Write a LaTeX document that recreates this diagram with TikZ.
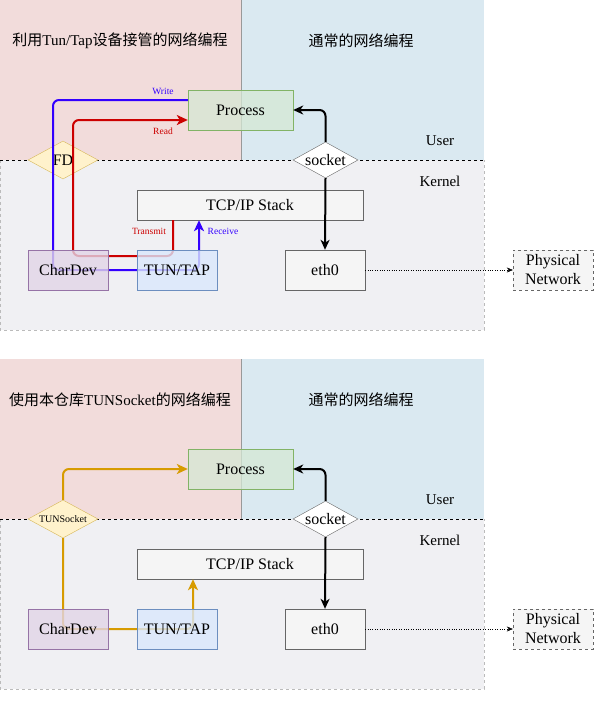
\documentclass[tikz,border=0pt]{standalone}
\usepackage{fontspec}
\setmainfont{Liberation Serif}
\newfontfamily\cjk{Noto Sans CJK SC}
\usetikzlibrary{shapes.geometric,arrows.meta}

\definecolor{pinkbg}{HTML}{F2DCDB}
\definecolor{bluebg}{HTML}{DAE9F1}
\definecolor{kernbg}{HTML}{F0F0F3}
\definecolor{kernline}{HTML}{BBBBBB}
\definecolor{divline}{HTML}{999999}
\definecolor{procfill}{HTML}{D5E8D4}
\definecolor{procline}{HTML}{82B366}
\definecolor{chrfill}{HTML}{E1D5E7}
\definecolor{chrline}{HTML}{9673A6}
\definecolor{tunfill}{HTML}{DAE8FC}
\definecolor{tunline}{HTML}{6C8EBF}
\definecolor{boxfill}{HTML}{F5F5F5}
\definecolor{boxline}{HTML}{666666}
\definecolor{fdfill}{HTML}{FFF2CC}
\definecolor{fdline}{HTML}{D6B656}
\definecolor{rred}{HTML}{CC0000}
\definecolor{wblue}{HTML}{3300FF}
\definecolor{orng}{HTML}{D79B00}

\begin{document}
\begin{tikzpicture}[x=1pt, y=-1pt,
  netbox/.style={draw, minimum width=80pt, minimum height=40pt, inner sep=0pt, align=center,
    font=\fontsize{16}{19}\selectfont},
  greybox/.style={netbox, fill=boxfill, draw=boxline},
  gatebox/.style={diamond, draw, aspect=1.8, minimum width=70pt, minimum height=38pt, inner sep=0pt,
    font=\fontsize{16}{19}\selectfont},
  flowline/.style={line width=2pt, rounded corners=6pt, -{Stealth[length=11pt,width=10pt,inset=3pt]}},
  sockline/.style={line width=2pt, rounded corners=6pt, -{Stealth[length=10pt,width=9pt,inset=3pt]}},
  dotline/.style={dotted, -{Stealth[length=6pt,width=5pt]}},
  sepline/.style={dash pattern=on 3pt off 3pt},
  flowtag/.style={font=\fontsize{9.5}{11}\selectfont, inner sep=1pt},
  layertext/.style={font=\fontsize{15}{18}\selectfont},
  headtext/.style={font=\fontsize{15}{18}\selectfont}]
\useasboundingbox (0,0) rectangle (605,701);

% Top panel: regions
\fill[pinkbg] (0,0) rectangle (241,160);
\fill[bluebg] (241,0) rectangle (484,160);
\filldraw[fill=kernbg, draw=kernline, dash pattern=on 3pt off 3pt] (0,160) -- (0,330) -- (484,330) -- (484,160);
\draw[divline] (241,0) -- (241,160);
\draw[sepline] (0,160) -- (484,160);
\node[headtext] (head1a) at (120,41) {{\cjk 利用}Tun/Tap{\cjk 设备接管的网络编程}};
\node[headtext] (head1b) at (361,41) {\cjk 通常的网络编程};
\node[layertext] (user1) at (440,141) {User};
\node[layertext] (kern1) at (440,181) {Kernel};

% Top panel: nodes
\node[gatebox, fill=fdfill, draw=fdline] (fd1) at (63,160) {FD};
\node[gatebox, fill=white, draw=boxline, minimum width=65pt, minimum height=36pt] (sock1) at (325.5,160) {socket};
\node[netbox, fill=procfill, draw=procline, fill opacity=.75, text opacity=1, minimum width=105pt] (proc1) at (240.5,110) {Process};
\node[greybox, minimum width=226pt, minimum height=30pt] (tcp1) at (250,205) {TCP/IP Stack};
\node[greybox] (eth1) at (325,270) {eth0};
\node[greybox, dashed] (phy1) at (553,270) {Physical\\Network};

% Top panel: flows
\coordinate (wr1) at (53,270);
\coordinate (rd1) at (73,256);
\draw[flowline, wblue] ([yshift=10pt]proc1.west) -| (wr1) -| ([xshift=-51pt]tcp1.south);
\draw[flowline, rred] ([xshift=-77pt]tcp1.south) |- (rd1) |- ([yshift=-10pt]proc1.west);
\draw[sockline] (sock1.north) |- (proc1.east);
\draw[sockline] (sock1.south) -- (eth1.north);
\draw[dotline] (eth1.east) -- (phy1.west);
\node[netbox, fill=chrfill, draw=chrline, fill opacity=.8, text opacity=1] (chr1) at (68,270) {CharDev};
\node[netbox, fill=tunfill, draw=tunline, fill opacity=.8, text opacity=1] (tun1) at (177,270) {TUN/TAP};
\node[flowtag, wblue] (wlab1) at (163,91) {Write};
\node[flowtag, rred] (rlab1) at (163,131) {Read};
\node[flowtag, rred] (tlab1) at (149,231) {Transmit};
\node[flowtag, wblue] (rvlab1) at (223,231) {Receive};

% Bottom panel
\begin{scope}[yshift=-359pt]
\fill[pinkbg] (0,0) rectangle (241,160);
\fill[bluebg] (241,0) rectangle (484,160);
\filldraw[fill=kernbg, draw=kernline, dash pattern=on 3pt off 3pt] (0,160) -- (0,330) -- (484,330) -- (484,160);
\draw[divline] (241,0) -- (241,160);
\draw[sepline] (0,160) -- (484,160);
\node[headtext] (head2a) at (120,41) {{\cjk 使用本仓库}TUNSocket{\cjk 的网络编程}};
\node[headtext] (head2b) at (361,41) {\cjk 通常的网络编程};
\node[layertext] (user2) at (440,141) {User};
\node[layertext] (kern2) at (440,181) {Kernel};

\node[gatebox, fill=fdfill, draw=fdline, font=\fontsize{10}{12}\selectfont] (tuns2) at (63,160) {TUNSocket};
\node[gatebox, fill=white, draw=boxline, minimum width=65pt, minimum height=36pt] (sock2) at (325.5,160) {socket};
\node[netbox, fill=procfill, draw=procline, fill opacity=.75, text opacity=1, minimum width=105pt] (proc2) at (240.5,110) {Process};
\node[greybox, minimum width=226pt, minimum height=30pt] (tcp2) at (250,205) {TCP/IP Stack};
\node[greybox] (eth2) at (325,270) {eth0};
\node[greybox, dashed] (phy2) at (553,270) {Physical\\Network};

\coordinate (or2) at (63,270);
\draw[flowline, orng] (tuns2.north) |- (proc2.west);
\draw[flowline, orng] (tuns2.south) -- (or2) -| ([xshift=-57pt]tcp2.south);
\draw[sockline] (sock2.north) |- (proc2.east);
\draw[sockline] (sock2.south) -- (eth2.north);
\draw[dotline] (eth2.east) -- (phy2.west);
\node[netbox, fill=chrfill, draw=chrline, fill opacity=.8, text opacity=1] (chr2) at (68,270) {CharDev};
\node[netbox, fill=tunfill, draw=tunline, fill opacity=.8, text opacity=1] (tun2) at (177,270) {TUN/TAP};
\end{scope}
\end{tikzpicture}
\end{document}
